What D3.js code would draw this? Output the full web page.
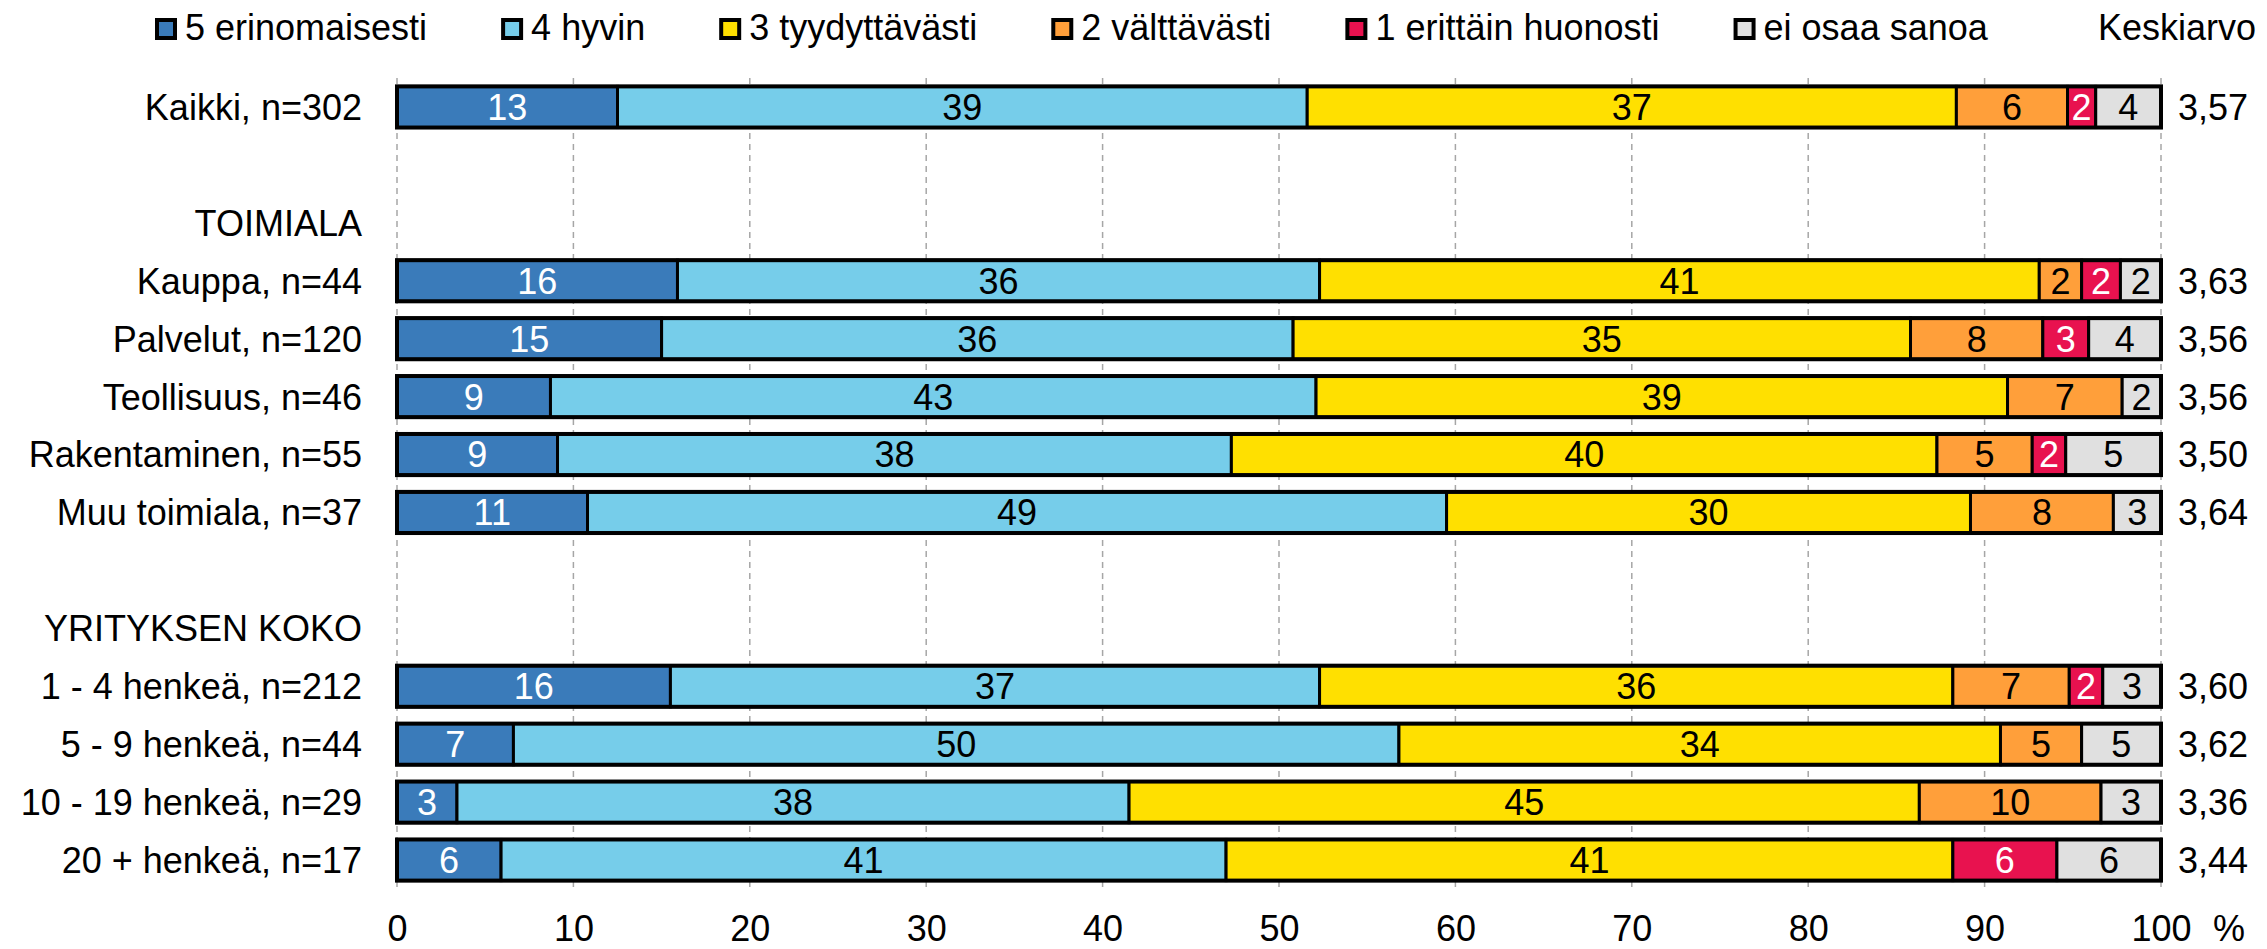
<!DOCTYPE html>
<html>
<head>
<meta charset="utf-8">
<script src="https://cdn.jsdelivr.net/npm/d3@7"></script>
<style>
  body { margin: 0; background: #fff; }
  svg text { font-family: "Liberation Sans", Arial, sans-serif; font-size: 36px; fill: #000; }
</style>
</head>
<body>
<svg id="chart" width="2267" height="949"></svg>
<script>
// rows of the chart, blanks and group headers included
var rowLabels = ['Kaikki, n=302', '', 'TOIMIALA', 'Kauppa, n=44', 'Palvelut, n=120', 'Teollisuus, n=46',
	'Rakentaminen, n=55', 'Muu toimiala, n=37', ' ', 'YRITYKSEN KOKO', '1 - 4 henkeä, n=212',
	'5 - 9 henkeä, n=44', '10 - 19 henkeä, n=29', '20 + henkeä, n=17'];

var categories = ['Kaikki, n=302', 'Kauppa, n=44', 'Palvelut, n=120', 'Teollisuus, n=46', 'Rakentaminen, n=55',
	'Muu toimiala, n=37', '1 - 4 henkeä, n=212', '5 - 9 henkeä, n=44', '10 - 19 henkeä, n=29', '20 + henkeä, n=17'];

var seriesNames = ['5 erinomaisesti', '4 hyvin', '3 tyydyttävästi', '2 välttävästi', '1 erittäin huonosti', 'ei osaa sanoa'];

var erinomaisesti = [12.5, 15.9, 15.0, 8.7, 9.1, 10.8, 15.5, 6.6, 3.4, 5.9];
var hyvin = [39.1, 36.4, 35.8, 43.4, 38.2, 48.7, 36.8, 50.2, 38.1, 41.1];
var tyydyttavasti = [36.8, 40.8, 35.0, 39.2, 40.0, 29.7, 35.9, 34.1, 44.8, 41.2];
var valttavasti = [6.3, 2.4, 7.5, 6.5, 5.4, 8.1, 6.6, 4.6, 10.3, 0];
var huonosti = [1.6, 2.2, 2.6, 0, 1.9, 0, 1.9, 0, 0, 5.9];
var eiOsaa = [3.7, 2.3, 4.1, 2.2, 5.4, 2.7, 3.3, 4.5, 3.4, 5.9];

var keskiarvo = [3.57, 3.63, 3.56, 3.56, 3.50, 3.64, 3.60, 3.62, 3.36, 3.44];

var xTicks = [0, 10, 20, 30, 40, 50, 60, 70, 80, 90, 100];

/*=================
=== Setup
=================*/
var colors = ['#3a7bba', '#76cdea', '#ffe000', '#ff9f3a', '#e8124f', '#e0e0e0'];
var whiteText = ['5 erinomaisesti', '1 erittäin huonosti'];

var svg = d3.select('#chart');
var fiLocale = d3.formatLocale({ decimal: ',', thousands: ' ', grouping: [3], currency: ['', ' €'] });
var fmtMean = fiLocale.format('.2f');

var x = d3.scaleLinear().domain([0, 100]).range([397, 2161]);
var y = d3.scaleBand()
	.domain(d3.range(rowLabels.length))
	.range([78, 889])
	.paddingInner(0.29)
	.paddingOuter(0.145);
var color = d3.scaleOrdinal().domain(seriesNames).range(colors);

var table = categories.map(function (c, i) {
	return {
		cat: c,
		row: rowLabels.indexOf(c),
		'5 erinomaisesti': erinomaisesti[i],
		'4 hyvin': hyvin[i],
		'3 tyydyttävästi': tyydyttavasti[i],
		'2 välttävästi': valttavasti[i],
		'1 erittäin huonosti': huonosti[i],
		'ei osaa sanoa': eiOsaa[i],
		mean: keskiarvo[i]
	};
});
var stacked = d3.stack().keys(seriesNames)(table);

/*=================
=== Grid
=================*/
svg.append('g').attr('class', 'grid')
	.selectAll('line')
	.data(xTicks)
	.join('line')
	.attr('x1', function (d) { return x(d); })
	.attr('x2', function (d) { return x(d); })
	.attr('y1', y.range()[0])
	.attr('y2', y.range()[1])
	.attr('stroke', '#a6a6a6')
	.attr('stroke-width', 1.5)
	.attr('stroke-dasharray', '6,5');

/*=================
=== Bars
=================*/
var layers = svg.append('g').attr('class', 'bars')
	.selectAll('g')
	.data(stacked)
	.join('g')
	.attr('fill', function (d) { return color(d.key); });

layers.selectAll('rect')
	.data(function (d) { return d.filter(function (p) { return p[1] - p[0] > 0; }); })
	.join('rect')
	.attr('x', function (d) { return x(d[0]); })
	.attr('width', function (d) { return x(d[1]) - x(d[0]); })
	.attr('y', function (d) { return y(d.data.row); })
	.attr('height', y.bandwidth())
	.attr('stroke', '#000')
	.attr('stroke-width', 3);

// thicker outline round each bar
svg.append('g').selectAll('rect')
	.data(table)
	.join('rect')
	.attr('x', x(0))
	.attr('width', x(100) - x(0))
	.attr('y', function (d) { return y(d.row); })
	.attr('height', y.bandwidth())
	.attr('fill', 'none')
	.attr('stroke', '#000')
	.attr('stroke-width', 4);

layers.selectAll('text')
	.data(function (d) {
		return d.filter(function (p) { return p[1] - p[0] > 0; })
			.map(function (p) { p.key = d.key; return p; });
	})
	.join('text')
	.attr('x', function (d) { return (x(d[0]) + x(d[1])) / 2; })
	.attr('y', function (d) { return y(d.data.row) + y.bandwidth() / 2; })
	.attr('dy', '0.36em')
	.attr('text-anchor', 'middle')
	.style('fill', function (d) { return whiteText.indexOf(d.key) > -1 ? '#fff' : '#000'; })
	.text(function (d) { return Math.round(d[1] - d[0]); });

/*=================
=== Labels
=================*/
svg.append('g').selectAll('text')
	.data(rowLabels)
	.join('text')
	.attr('x', 362)
	.attr('y', function (d, i) { return y(i) + y.bandwidth() / 2; })
	.attr('dy', '0.36em')
	.attr('text-anchor', 'end')
	.text(function (d) { return d.trim(); });

svg.append('g').selectAll('text')
	.data(table)
	.join('text')
	.attr('x', 2178)
	.attr('y', function (d) { return y(d.row) + y.bandwidth() / 2; })
	.attr('dy', '0.36em')
	.text(function (d) { return fmtMean(d.mean); });

/*=================
=== X axis
=================*/
var xAxis = svg.append('g')
	.attr('transform', 'translate(0,' + y.range()[1] + ')')
	.call(d3.axisBottom(x).tickValues(xTicks).tickSize(0).tickPadding(26).tickFormat(d3.format('d')));
xAxis.select('.domain').remove();
xAxis.selectAll('text').style('font-size', '36px').style('font-family', '"Liberation Sans", Arial, sans-serif');

svg.append('text').attr('x', 2213).attr('y', 940.5).text('%');

/*=================
=== Legend
=================*/
var legend = svg.append('g').attr('class', 'legend');
var lx = 155;
seriesNames.forEach(function (name) {
	var item = legend.append('g').attr('transform', 'translate(' + lx + ',0)');
	item.append('rect')
		.attr('x', 2).attr('y', 20)
		.attr('width', 18).attr('height', 18)
		.attr('fill', color(name))
		.attr('stroke', '#000')
		.attr('stroke-width', 4);
	var t = item.append('text').attr('x', 30).attr('y', 40).text(name);
	lx += 30 + t.node().getComputedTextLength() + 74;
});
legend.append('text').attr('x', 2098).attr('y', 40).text('Keskiarvo');
</script>
</body>
</html>
